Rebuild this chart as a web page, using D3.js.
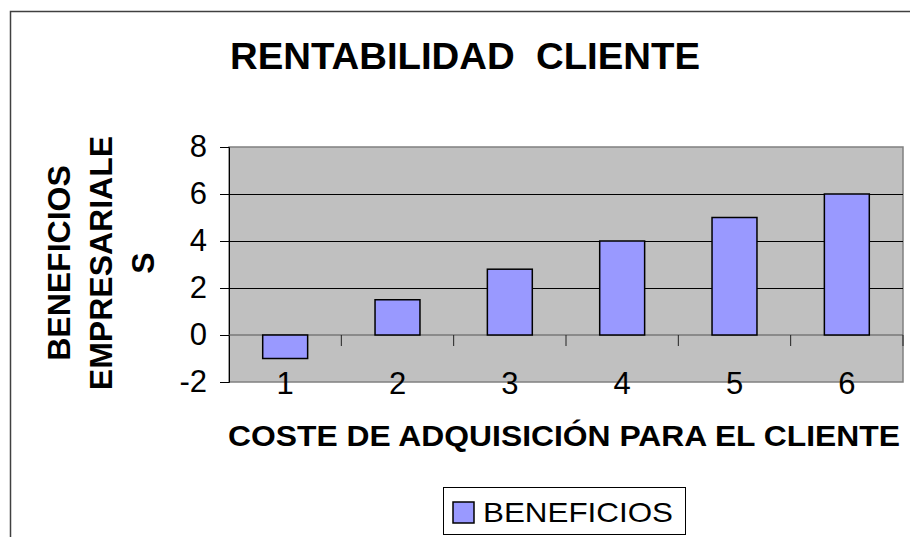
<!DOCTYPE html>
<html lang="es">
<head>
<meta charset="UTF-8">
<title>Rentabilidad cliente</title>
<script src="https://d3js.org/d3.v7.min.js"></script>
<style>
    body { margin: 0; background: #fff; font-family: Arial, "Liberation Sans", sans-serif; }
    svg { display: block; font-family: Arial, "Liberation Sans", sans-serif; }
    text { white-space: pre; }
    .num { font-size: 31px; }
</style>
</head>
<body>
<svg width="910" height="537"></svg>
<script>
    // data
    const categories = ["1", "2", "3", "4", "5", "6"];
    const beneficios = [-1, 1.5, 2.8, 4, 5, 6];
    const yTicks = [-2, 0, 2, 4, 6, 8];
    const seriesName = "BENEFICIOS";
    const chartTitle = "RENTABILIDAD  CLIENTE";
    const xTitle = "COSTE DE ADQUISICIÓN PARA EL CLIENTE";
    const yTitleLines = ["BENEFICIOS", "EMPRESARIALE", "S"];

    const data = categories.map((c, i) => ({ cat: c, value: beneficios[i] }));

    const plot = { left: 229, right: 903, top: 147, bottom: 382 };
    const svg = d3.select("svg");

    // outer chart frame (runs past the right and bottom edge)
    svg.append("rect")
        .attr("x", 10.5).attr("y", 11.5)
        .attr("width", 1000).attr("height", 1000)
        .attr("fill", "none").attr("stroke", "#404040").attr("stroke-width", 1.5);

    const x = d3.scaleBand()
        .domain(categories)
        .range([plot.left, plot.right])
        .paddingInner(0.6)
        .paddingOuter(0.3);

    const y = d3.scaleLinear()
        .domain([-2, 8])
        .range([plot.bottom, plot.top]);

    // plot area
    svg.append("rect")
        .attr("x", plot.left).attr("y", plot.top)
        .attr("width", plot.right - plot.left).attr("height", plot.bottom - plot.top)
        .attr("fill", "#c0c0c0").attr("stroke", "#808080").attr("stroke-width", 1.5);

    // gridlines
    svg.append("g")
        .selectAll("line")
        .data(yTicks.filter(d => d > 0 && d < 8))
        .join("line")
        .attr("x1", plot.left).attr("x2", plot.right)
        .attr("y1", d => Math.round(y(d)) + 0.5).attr("y2", d => Math.round(y(d)) + 0.5)
        .attr("stroke", "#000").attr("stroke-width", 1);

    // y axis
    const yAxis = svg.append("g")
        .attr("transform", `translate(${plot.left},0)`)
        .call(d3.axisLeft(y).tickValues(yTicks).tickSize(9).tickPadding(13).tickFormat(d => String(d)));
    yAxis.attr("font-size", null).attr("font-family", null);
    yAxis.select(".domain").attr("stroke", "#000");
    yAxis.selectAll("line").attr("stroke", "#000");
    yAxis.selectAll("text").attr("class", "num").attr("fill", "#000");

    // zero line with category ticks
    const bounds = d3.range(categories.length + 1).map(i => plot.left + i * (plot.right - plot.left) / categories.length);
    svg.append("line")
        .attr("x1", plot.left).attr("x2", plot.right)
        .attr("y1", y(0)).attr("y2", y(0))
        .attr("stroke", "#555").attr("stroke-width", 1.2);
    svg.append("g")
        .selectAll("line")
        .data(bounds.slice(1))
        .join("line")
        .attr("x1", d => d).attr("x2", d => d)
        .attr("y1", y(0)).attr("y2", y(0) + 11)
        .attr("stroke", "#222").attr("stroke-width", 1);

    // bars
    svg.append("g")
        .selectAll("rect")
        .data(data)
        .join("rect")
        .attr("x", d => x(d.cat))
        .attr("y", d => y(Math.max(0, d.value)))
        .attr("width", x.bandwidth())
        .attr("height", d => Math.abs(y(d.value) - y(0)))
        .attr("fill", "#9999ff")
        .attr("stroke", "#000").attr("stroke-width", 1.5);

    // category labels
    svg.append("g")
        .selectAll("text")
        .data(categories)
        .join("text")
        .attr("class", "num")
        .attr("x", d => x(d) + x.bandwidth() / 2)
        .attr("y", 394)
        .attr("text-anchor", "middle")
        .text(d => d);

    // titles
    svg.append("text")
        .attr("x", 230).attr("y", 69)
        .style("font-size", "37px").attr("font-weight", "bold")
        .attr("textLength", 470).attr("lengthAdjust", "spacingAndGlyphs")
        .text(chartTitle);

    svg.append("text")
        .attr("x", 228).attr("y", 446)
        .style("font-size", "29px").attr("font-weight", "bold")
        .attr("textLength", 672).attr("lengthAdjust", "spacingAndGlyphs")
        .text(xTitle);

    const yTitleX = [70, 112, 154];
    svg.append("g")
        .selectAll("text")
        .data(yTitleLines)
        .join("text")
        .attr("transform", (d, i) => `translate(${yTitleX[i]},263) rotate(-90)`)
        .attr("text-anchor", "middle")
        .style("font-size", "32px").attr("font-weight", "bold")
        .text(d => d);

    // legend
    const legend = svg.append("g");
    legend.append("rect")
        .attr("x", 443.5).attr("y", 487.5).attr("width", 242).attr("height", 47)
        .attr("fill", "#fff").attr("stroke", "#000").attr("stroke-width", 1);
    legend.append("rect")
        .attr("x", 453).attr("y", 502).attr("width", 21).attr("height", 21)
        .attr("fill", "#9999ff").attr("stroke", "#000").attr("stroke-width", 1.5);
    legend.append("text")
        .attr("x", 483).attr("y", 522)
        .style("font-size", "28px")
        .attr("textLength", 190).attr("lengthAdjust", "spacingAndGlyphs")
        .text(seriesName);
</script>
</body>
</html>
